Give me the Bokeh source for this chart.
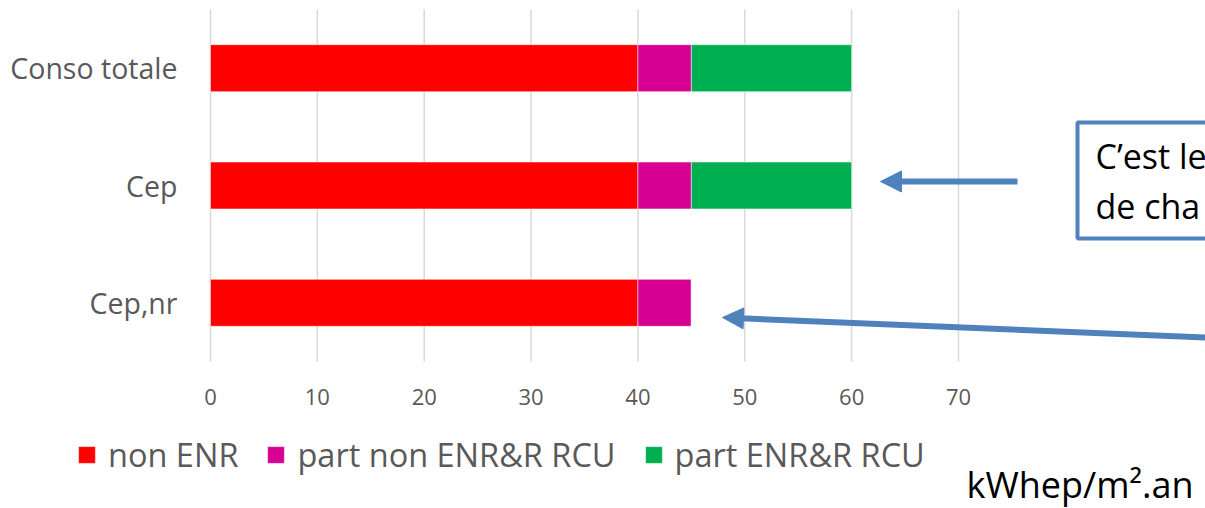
from bokeh.plotting import figure
from bokeh.models import (Range1d, FixedTicker, Legend, LegendItem,
                          Label, Arrow, NormalHead, BoxAnnotation, ColumnDataSource)
from bokeh.embed import file_html
from bokeh.resources import INLINE

# ---- data ----
categories = ["Cep,nr", "Cep", "Conso totale"]          # bottom -> top
series_names = ["non ENR", "part non ENR&R RCU", "part ENR&R RCU"]
non_enr = [40, 40, 40]
part_non_enr_rcu = [5, 5, 5]
part_enr_rcu = [0, 15, 15]
x_ticks = [0, 10, 20, 30, 40, 50, 60, 70]
unit_label = "kWhep/m².an"
note_lines = ["C’est le", "de cha"]

colors = ["#FF0000", "#D60093", "#00B050"]
FONT = "Open Sans"
GREY = "#595959"
BLUE = "#4F81BD"

ypos = [i + 0.5 for i in range(len(categories))]
source = ColumnDataSource({"y": ypos, "cat": categories,
                           "non ENR": non_enr,
                           "part non ENR&R RCU": part_non_enr_rcu,
                           "part ENR&R RCU": part_enr_rcu})

W, H = 1205, 508
p = figure(width=W, height=H, output_backend="svg", toolbar_location=None,
           x_range=Range1d(-19.652, 93.115),
           y_range=Range1d(-1.2528, 3.0767),
           min_border_left=0, min_border_right=0, min_border_top=0,
           min_border_bottom=0)
p.outline_line_color = None
p.xgrid.visible = False
p.ygrid.visible = False

# vertical grid lines spanning the category block
p.segment(x0=x_ticks, x1=x_ticks, y0=[0] * len(x_ticks),
          y1=[len(categories)] * len(x_ticks),
          line_color="#D9D9D9", line_width=1.5)

rs = p.hbar_stack(series_names, y="y", height=0.4, color=colors, source=source,
                  line_color="white", line_alpha=0.5, line_width=1)

# axes
p.xaxis.fixed_location = 0
p.xaxis.ticker = FixedTicker(ticks=x_ticks)
p.xaxis.axis_line_color = None
p.xaxis.major_tick_line_color = None
p.xaxis.minor_tick_line_color = None
p.xaxis.major_label_standoff = 21
p.xaxis.major_label_text_font = FONT
p.xaxis.major_label_text_font_size = "22px"
p.xaxis.major_label_text_color = GREY

p.yaxis.fixed_location = 0
p.yaxis.ticker = FixedTicker(ticks=ypos)
p.yaxis.major_label_overrides = {y: c for y, c in zip(ypos, categories)}
p.yaxis.axis_line_color = None
p.yaxis.major_tick_line_color = None
p.yaxis.minor_tick_line_color = None
p.yaxis.major_label_standoff = 27
p.yaxis.major_label_text_font = FONT
p.yaxis.major_label_text_font_size = "28.5px"
p.yaxis.major_label_text_color = GREY

# legend
legend = Legend(items=[LegendItem(label=n, renderers=[r]) for n, r in zip(series_names, rs)],
                orientation="horizontal", location=(76, 31),
                glyph_width=21, glyph_height=21, label_standoff=11, spacing=27,
                padding=0, margin=0, border_line_color=None, background_fill_alpha=0,
                label_text_font=FONT, label_text_font_size="32.5px",
                label_text_color=GREY)
p.add_layout(legend, "center")

# annotations (screen units from the frame's bottom-left corner)
box = BoxAnnotation(left=1077, right=1300, top=386, bottom=270,
                    left_units="screen", right_units="screen",
                    top_units="screen", bottom_units="screen",
                    fill_color="white", fill_alpha=1,
                    line_color=BLUE, line_alpha=1, line_width=4)
p.add_layout(box)
for i, t in enumerate(note_lines):
    p.add_layout(Label(x=1095, y=353 - 50 * i, x_units="screen", y_units="screen",
                       text=t, text_font=FONT, text_font_size="34px",
                       text_color="black", text_baseline="alphabetic"))

p.add_layout(Arrow(x_start=1017, y_start=327, x_end=880, y_end=327,
                   start_units="screen", end_units="screen",
                   line_color=BLUE, line_width=6,
                   end=NormalHead(size=21, fill_color=BLUE, line_color=BLUE)))
p.add_layout(Arrow(x_start=1230, y_start=170, x_end=722, y_end=191,
                   start_units="screen", end_units="screen",
                   line_color=BLUE, line_width=6,
                   end=NormalHead(size=21, fill_color=BLUE, line_color=BLUE)))

p.add_layout(Label(x=966, y=24, x_units="screen", y_units="screen",
                   text=unit_label, text_font=FONT, text_font_size="36px",
                   text_color="black", text_baseline="alphabetic"))

open("out.html", "w").write(file_html(p, INLINE))
